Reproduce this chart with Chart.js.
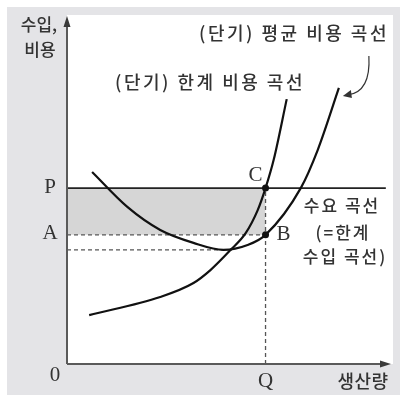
<!DOCTYPE html>
<html>
<head>
<meta charset="utf-8">
<script src="https://cdn.jsdelivr.net/npm/chart.js@4.4.1/dist/chart.umd.min.js"></script>
<style>
  html, body { margin: 0; background: #fff; }
  canvas { display: block; }
</style>
</head>
<body>
<canvas id="costChart" width="400" height="397"></canvas>
<script>
// 생산량(x) / 수입·비용(y), both on a 0-100 scale
const mcX = [6.8, 28.6, 38.8, 44.0, 50.2, 54.8, 58.5, 60.9, 63.4, 67.4];
const mcY = [14.0, 19.2, 23.2, 26.9, 32.7, 37.5, 44.1, 50.4, 58.5, 75.9];
const acX = [7.7, 18.5, 28.6, 38.8, 48.0, 55.4, 60.9, 71.7, 76.9, 83.4];
const acY = [55.0, 45.0, 38.4, 34.7, 32.7, 34.1, 37.0, 50.4, 61.3, 79.1];

const priceP = 50.4;   // P (demand = marginal revenue)
const costA = 37.0;    // A (average cost at Q)
const outputQ = 60.9;  // Q
const acMinX = 48.0;
const acMinY = 32.7;
const demandEnd = 97.8;

const yTicks = [priceP, costA];
const yTickLabels = ['P', 'A'];
const xTicks = [outputQ];
const xTickLabels = ['Q'];

const pts = (xs, ys) => xs.map((x, i) => ({ x, y: ys[i] }));
const dash = { borderColor: '#555', borderWidth: 1.3, borderDash: [4, 3], pointRadius: 0, fill: false };
const curve = { borderColor: '#111', borderWidth: 2.2, pointRadius: 0, fill: false, cubicInterpolationMode: 'monotone' };

const serif = '21px "Liberation Serif", "DejaVu Serif", serif';
const gothic = '"Noto Sans CJK KR", "Noto Sans", sans-serif';

function text(ctx, str, x, y, font, spacing) {
  ctx.font = font;
  ctx.letterSpacing = spacing || '0px';
  ctx.fillText(str, x, y);
}

const diagram = {
  id: 'diagram',
  beforeDraw(chart) {
    const { ctx, chartArea: a } = chart;
    ctx.save();
    ctx.fillStyle = '#fff';
    ctx.fillRect(0, 0, chart.width, chart.height);
    ctx.fillStyle = '#e4e4e7';
    ctx.fillRect(7, 7, 393, 388);
    ctx.fillStyle = '#fff';
    ctx.fillRect(a.left, a.top, a.right - a.left, a.bottom - a.top);
    ctx.restore();
  },
  afterDatasetsDraw(chart) {
    const { ctx, chartArea: a, scales: { x, y } } = chart;
    const x0 = x.getPixelForValue(0);
    const y0 = y.getPixelForValue(0);
    ctx.save();

    // axes with arrow heads
    ctx.strokeStyle = '#5a5a5a';
    ctx.fillStyle = '#3a3a3a';
    ctx.lineWidth = 2;
    ctx.beginPath();
    ctx.moveTo(x0, y0);
    ctx.lineTo(x0, a.top + 6);
    ctx.moveTo(x0, y0);
    ctx.lineTo(a.right - 6, y0);
    ctx.stroke();
    ctx.beginPath();
    ctx.moveTo(x0, a.top + 1);
    ctx.lineTo(x0 - 3.5, a.top + 12);
    ctx.lineTo(x0 + 3.5, a.top + 12);
    ctx.closePath();
    ctx.moveTo(a.right - 2, y0);
    ctx.lineTo(a.right - 13, y0 - 3.5);
    ctx.lineTo(a.right - 13, y0 + 3.5);
    ctx.closePath();
    ctx.fill();

    // curved arrow from the label down to the average cost curve
    const ax = x.getPixelForValue(acX[acX.length - 1]) + 4;
    const ay = y.getPixelForValue(acY[acY.length - 1]) + 8;
    ctx.strokeStyle = '#333';
    ctx.lineWidth = 1.2;
    ctx.beginPath();
    ctx.moveTo(ax + 26, 56);
    ctx.quadraticCurveTo(ax + 28, ay - 4, ax + 5, ay - 1);
    ctx.stroke();
    ctx.fillStyle = '#333';
    ctx.beginPath();
    ctx.moveTo(ax, ay);
    ctx.lineTo(ax + 8, ay - 6);
    ctx.lineTo(ax + 9, ay + 2);
    ctx.closePath();
    ctx.fill();

    // tick labels
    ctx.fillStyle = '#333';
    ctx.textAlign = 'center';
    ctx.textBaseline = 'middle';
    yTicks.forEach((v, i) => text(ctx, yTickLabels[i], 50, y.getPixelForValue(v) - 1, serif));
    xTicks.forEach((v, i) => text(ctx, xTickLabels[i], x.getPixelForValue(v), 381, serif));
    text(ctx, '0', 55, 375, serif);
    text(ctx, 'C', x.getPixelForValue(outputQ) - 10, y.getPixelForValue(priceP) - 13, serif);
    text(ctx, 'B', x.getPixelForValue(outputQ) + 18, y.getPixelForValue(costA), serif);

    // axis titles and curve names
    ctx.fillStyle = '#333';
    const k = '500 17px ' + gothic;
    text(ctx, '수입,', 39, 25, k);
    text(ctx, '비용', 40, 50, k);
    text(ctx, '생산량', 363, 381, '500 18px ' + gothic, '0.5px');
    text(ctx, '(단기) 평균 비용 곡선', 294, 33, '500 18px ' + gothic, '2.5px');
    text(ctx, '(단기) 한계 비용 곡선', 210, 82, '500 18px ' + gothic, '2.5px');
    text(ctx, '수요 곡선', 342, 206, '500 17px ' + gothic, '2px');
    text(ctx, '(=한계', 343, 233, '500 17px ' + gothic, '2px');
    text(ctx, '수입 곡선)', 345, 257, '500 17px ' + gothic, '2px');
    ctx.restore();
  }
};

new Chart(document.getElementById('costChart'), {
  type: 'line',
  data: {
    datasets: [
      { data: [{ x: 0, y: priceP }, { x: outputQ, y: priceP }], borderWidth: 0, pointRadius: 0,
        fill: '+1', backgroundColor: '#d6d6d6', order: 10 },
      { ...dash, data: [{ x: 0, y: costA }, { x: outputQ, y: costA }], order: 9 },
      { ...dash, data: [{ x: 0, y: acMinY }, { x: acMinX, y: acMinY }], order: 8 },
      { ...dash, data: [{ x: outputQ, y: 0 }, { x: outputQ, y: priceP }], order: 7 },
      { data: [{ x: 0, y: priceP }, { x: demandEnd, y: priceP }], borderColor: '#222', borderWidth: 1.8,
        pointRadius: 0, fill: false, order: 3 },
      { ...curve, data: pts(mcX, mcY), order: 2 },
      { ...curve, data: pts(acX, acY), order: 2 },
      { data: [{ x: outputQ, y: priceP }, { x: outputQ, y: costA }], showLine: false,
        pointRadius: 3.5, pointBackgroundColor: '#111', pointBorderWidth: 0, order: 0 }
    ]
  },
  options: {
    responsive: false,
    animation: false,
    layout: { padding: { left: 67, top: 15, right: 7, bottom: 33 } },
    scales: {
      x: { type: 'linear', min: 0, max: 100, display: false },
      y: { type: 'linear', min: 0, max: 100, display: false }
    },
    plugins: { legend: { display: false }, tooltip: { enabled: false } }
  },
  plugins: [diagram]
});
</script>
</body>
</html>
